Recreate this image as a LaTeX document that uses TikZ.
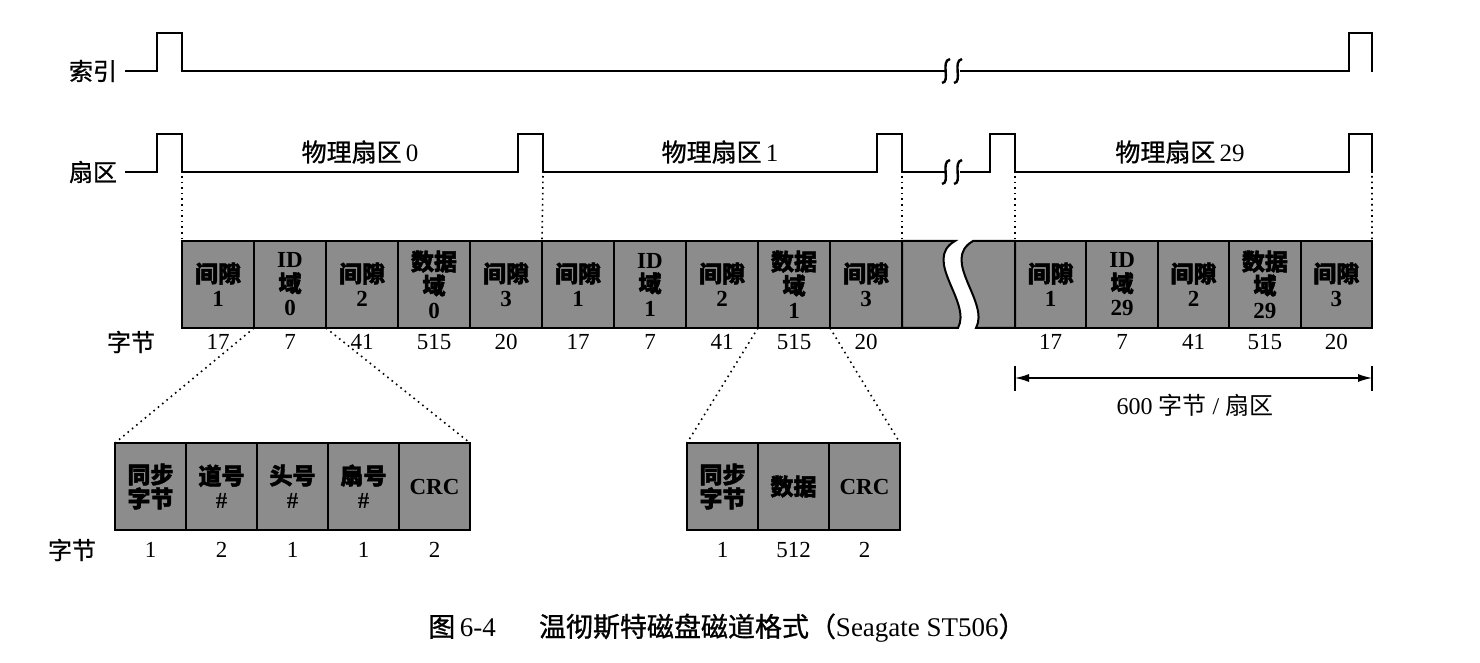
\documentclass[tikz,border=0pt]{standalone}
\usepackage{fontspec}
\setmainfont{Liberation Serif}
\newfontfamily\cjk{Noto Sans CJK SC}
\newfontfamily\cjkb{Noto Sans CJK SC}[FakeBold=2]
\newfontfamily\cjkm{Noto Sans CJK SC}[FakeBold=1]
\usetikzlibrary{arrows.meta, positioning}

\definecolor{cellgray}{RGB}{140,140,140}

\tikzset{
  cellbox/.style={draw, line width=1pt, fill=cellgray, minimum width=36pt, minimum height=43.5pt,
    inner sep=0pt, outer sep=0pt, align=center, font=\fontsize{11.5}{12}\selectfont\bfseries},
  rcellbox/.style={cellbox, minimum width=35.7pt},
  sbox/.style={cellbox, minimum width=35.5pt},
  wave/.style={line width=1.2pt},
  zoomline/.style={dotted, line width=0.8pt},
  numlbl/.style={font=\fontsize{11.5}{12}\selectfont},
  sidelbl/.style={font=\fontsize{12}{13}\cjkm},
}

\begin{document}
\begin{tikzpicture}[x=0.5pt, y=-0.5pt]
  \useasboundingbox (0,0) rectangle (1480,663);

  % index signal
  \node[sidelbl] (idxlbl) at (93,71) {索引};
  \draw[wave] (125,71) -- (157,71) -- (157,33) -- (182,33) -- (182,71) -- (945,71);
  \draw[wave] (950,59) .. controls (940,61) and (951,82) .. (942,83);
  \draw[wave] (962,59) .. controls (952,61) and (963,82) .. (954,83);
  \draw[wave] (960,71) -- (1349,71) -- (1349,33) -- (1372,33) -- (1372,72);

  % sector signal
  \node[sidelbl] (seclbl) at (93,172) {扇区};
  \draw[wave] (125,172) -- (157,172) -- (157,134) -- (182,134) -- (182,172)
    -- (518,172) -- (518,134) -- (543,134) -- (543,172)
    -- (877,172) -- (877,134) -- (902,134) -- (902,172) -- (945,172);
  \draw[wave] (950,160) .. controls (940,162) and (951,183) .. (942,184);
  \draw[wave] (962,160) .. controls (952,162) and (963,183) .. (954,184);
  \draw[wave] (960,172) -- (990,172) -- (990,134) -- (1015,134) -- (1015,172)
    -- (1349,172) -- (1349,134) -- (1372,134) -- (1372,173);

  \node[sidelbl, font=\fontsize{12.5}{13}\cjkm] (phys0) at (360,152) {物理扇区\,\rmfamily 0};
  \node[sidelbl, font=\fontsize{12.5}{13}\cjkm] (phys1) at (720,152) {物理扇区\,\rmfamily 1};
  \node[sidelbl, font=\fontsize{12.5}{13}\cjkm] (phys29) at (1180,152) {物理扇区\,\rmfamily 29};

  % track row, sectors 0 and 1
  \node[cellbox] (gapa1) at (218,284.5) {{\cjkb 间隙}\\1};
  \node[cellbox, right=0pt of gapa1] (ida) {ID\\{\cjkb 域}\\0};
  \node[cellbox, right=0pt of ida] (gapa2) {{\cjkb 间隙}\\2};
  \node[cellbox, right=0pt of gapa2] (dataa) {{\cjkb 数据}\\{\cjkb 域}\\0};
  \node[cellbox, right=0pt of dataa] (gapa3) {{\cjkb 间隙}\\3};
  \node[cellbox, right=0pt of gapa3] (gapb1) {{\cjkb 间隙}\\1};
  \node[cellbox, right=0pt of gapb1] (idb) {ID\\{\cjkb 域}\\1};
  \node[cellbox, right=0pt of idb] (gapb2) {{\cjkb 间隙}\\2};
  \node[cellbox, right=0pt of gapb2] (datab) {{\cjkb 数据}\\{\cjkb 域}\\1};
  \node[cellbox, right=0pt of datab] (gapb3) {{\cjkb 间隙}\\3};

  % cut in the track
  \draw[line width=1pt, fill=cellgray] (gapb3.north east) -- (955,241)
    .. controls (922,260) and (972,302) .. (958,328) -- (gapb3.south east) -- cycle;

  % track row, sector 29
  \node[rcellbox] (gapc1) at (1050.7,284.5) {{\cjkb 间隙}\\1};
  \draw[line width=1pt, fill=cellgray] (gapc1.north west) -- (973,241)
    .. controls (940,260) and (990,302) .. (976,328) -- (gapc1.south west) -- cycle;
  \node[rcellbox, right=0pt of gapc1] (idc) {ID\\{\cjkb 域}\\29};
  \node[rcellbox, right=0pt of idc] (gapc2) {{\cjkb 间隙}\\2};
  \node[rcellbox, right=0pt of gapc2] (datac) {{\cjkb 数据}\\{\cjkb 域}\\29};
  \node[rcellbox, right=0pt of datac] (gapc3) {{\cjkb 间隙}\\3};

  % sector marks down to the track
  \draw[zoomline] (182,176) -- (gapa1.north west);
  \draw[zoomline] (543,176) -- (gapb1.north west);
  \draw[zoomline] (902,176) -- (gapb3.north east);
  \draw[zoomline] (1015,176) -- (gapc1.north west);
  \draw[zoomline] (1372,176) -- (gapc3.north east);

  % byte counts
  \coordinate (numrow) at (0,342);
  \node[sidelbl] (bytelbl) at (131,342) {字节};
  \node[numlbl] at (gapa1 |- numrow) {17};
  \node[numlbl] at (ida |- numrow) {7};
  \node[numlbl] at (gapa2 |- numrow) {41};
  \node[numlbl] at (dataa |- numrow) {515};
  \node[numlbl] at (gapa3 |- numrow) {20};
  \node[numlbl] at (gapb1 |- numrow) {17};
  \node[numlbl] at (idb |- numrow) {7};
  \node[numlbl] at (gapb2 |- numrow) {41};
  \node[numlbl] at (datab |- numrow) {515};
  \node[numlbl] at (gapb3 |- numrow) {20};
  \node[numlbl] at (gapc1 |- numrow) {17};
  \node[numlbl] at (idc |- numrow) {7};
  \node[numlbl] at (gapc2 |- numrow) {41};
  \node[numlbl] at (datac |- numrow) {515};
  \node[numlbl] at (gapc3 |- numrow) {20};

  % sector length
  \coordinate (diml) at (1015,378);
  \coordinate (dimr) at (1372,378);
  \draw[line width=0.6pt] (1015,366) -- (1015,391);
  \draw[line width=0.6pt] (1372,366) -- (1372,391);
  \draw[{Latex[length=7pt,width=4pt]}-{Latex[length=7pt,width=4pt]}, line width=0.6pt] (diml) -- (dimr);
  \node[numlbl, font=\fontsize{12}{13}\selectfont] (secsize) at (1195,405) {600 {\cjk 字节} / {\cjk 扇区}};

  % ID field detail
  \node[sbox] (synca) at (150.5,486.5) {{\cjkb 同步}\\{\cjkb 字节}};
  \node[sbox, right=0pt of synca] (trk) {{\cjkb 道号}\\\#};
  \node[sbox, right=0pt of trk] (head) {{\cjkb 头号}\\\#};
  \node[sbox, right=0pt of head] (secno) {{\cjkb 扇号}\\\#};
  \node[sbox, right=0pt of secno] (crca) {CRC};

  % data field detail
  \node[sbox] (syncb) at (722.5,486.5) {{\cjkb 同步}\\{\cjkb 字节}};
  \node[sbox, right=0pt of syncb] (datfld) {\cjkb 数据};
  \node[sbox, right=0pt of datfld] (crcb) {CRC};

  \draw[zoomline] (ida.south west) -- (synca.north west);
  \draw[zoomline] (ida.south east) -- (crca.north east);
  \draw[zoomline] (datab.south west) -- (syncb.north west);
  \draw[zoomline] (datab.south east) -- (crcb.north east);

  \coordinate (subrow) at (0,550);
  \node[sidelbl] (bytelbl2) at (72,550) {字节};
  \node[numlbl] at (synca |- subrow) {1};
  \node[numlbl] at (trk |- subrow) {2};
  \node[numlbl] at (head |- subrow) {1};
  \node[numlbl] at (secno |- subrow) {1};
  \node[numlbl] at (crca |- subrow) {2};
  \node[numlbl] at (syncb |- subrow) {1};
  \node[numlbl] at (datfld |- subrow) {512};
  \node[numlbl] at (crcb |- subrow) {2};

  % caption
  \node[font=\fontsize{13.5}{15}\selectfont] (caption) at (727,628)
    {{\cjkm 图}\,6-4\hspace{1.6em}{\cjkm 温彻斯特磁盘磁道格式（}Seagate ST506{\cjkm ）}};
\end{tikzpicture}
\end{document}
